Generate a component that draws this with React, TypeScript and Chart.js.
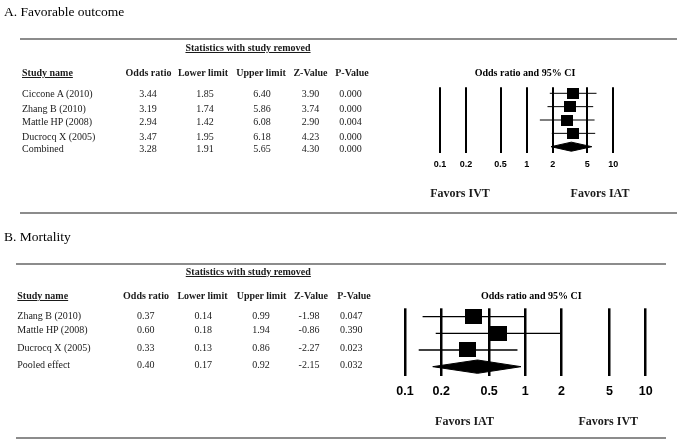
import React, { useEffect, useRef } from "react";
import { Chart, registerables } from "chart.js";

Chart.register(...registerables);

// ---------- Data ----------
const studiesA = ["Ciccone A (2010)", "Zhang B (2010)", "Mattle HP (2008)", "Ducrocq X (2005)", "Combined"];
const oddsA = [3.44, 3.19, 2.94, 3.47, 3.28];
const lowerA = [1.85, 1.74, 1.42, 1.95, 1.91];
const upperA = [6.4, 5.86, 6.08, 6.18, 5.65];
const zA = [3.9, 3.74, 2.9, 4.23, 4.3];
const pA = [0.0, 0.0, 0.004, 0.0, 0.0];

const studiesB = ["Zhang B (2010)", "Mattle HP (2008)", "Ducrocq X (2005)", "Pooled effect"];
const oddsB = [0.37, 0.6, 0.33, 0.4];
const lowerB = [0.14, 0.18, 0.13, 0.17];
const upperB = [0.99, 1.94, 0.86, 0.92];
const zB = [-1.98, -0.86, -2.27, -2.15];
const pB = [0.047, 0.39, 0.023, 0.032];

const tickValues = [0.1, 0.2, 0.5, 1, 2, 5, 10];
const headers = ["Odds ratio", "Lower limit", "Upper limit", "Z-Value", "P-Value"];

// ---------- Styling ----------
const SERIF = "'Liberation Serif', 'Times New Roman', serif";
const SANS = "'Liberation Sans', Arial, sans-serif";
const W = 681;
const H = 442;

function makeBox(w: number, h: number) {
  const c = document.createElement("canvas");
  c.width = w;
  c.height = h;
  const ctx = c.getContext("2d")!;
  ctx.fillStyle = "#000";
  ctx.fillRect(0, 0, w, h);
  return c;
}

type PanelCfg = {
  odds: number[];
  lower: number[];
  upper: number[];
  boxW: number;
  boxH: number;
  diamondHalf: number;
  yMin: number;
  yMax: number;
  padding: { left: number; right: number; top: number; bottom: number };
  tickSize: number;
  tickPad: number;
  gridW: number;
  whiskerW: number;
};

function buildChart(canvas: HTMLCanvasElement, cfg: PanelCfg) {
  const n = cfg.odds.length;
  const box = makeBox(cfg.boxW, cfg.boxH);
  const studyIdx = Array.from({ length: n - 1 }, (_, i) => i);
  const r = n; // summary row
  const datasets: any[] = [];
  datasets.push({
    label: "studies",
    data: studyIdx.map((i) => ({ x: cfg.odds[i], y: i + 1 })),
    pointStyle: box,
    pointRadius: cfg.boxW / 2,
    showLine: false,
  });
  datasets.push({
    label: "summary",
    data: [
      { x: cfg.lower[n - 1], y: r },
      { x: cfg.odds[n - 1], y: r - cfg.diamondHalf },
      { x: cfg.upper[n - 1], y: r },
      { x: cfg.odds[n - 1], y: r + cfg.diamondHalf },
      { x: cfg.lower[n - 1], y: r },
    ],
    showLine: true,
    fill: "shape",
    backgroundColor: "#000",
    borderColor: "#000",
    borderWidth: 1,
    pointRadius: 0,
    tension: 0,
  });
  studyIdx.forEach((i) => {
    datasets.push({
      label: "ci" + i,
      data: [
        { x: cfg.lower[i], y: i + 1 },
        { x: cfg.upper[i], y: i + 1 },
      ],
      showLine: true,
      borderColor: "#000",
      borderWidth: cfg.whiskerW,
      pointRadius: 0,
    });
  });

  return new Chart(canvas, {
    type: "scatter",
    data: { datasets },
    options: {
      responsive: false,
      animation: false,
      devicePixelRatio: 1,
      events: [],
      layout: { padding: cfg.padding },
      plugins: { legend: { display: false }, tooltip: { enabled: false }, title: { display: false } },
      scales: {
        x: {
          type: "logarithmic",
          min: 0.1,
          max: 10,
          position: "bottom",
          afterBuildTicks: (s: any) => {
            s.ticks = tickValues.map((v) => ({ value: v }));
          },
          ticks: {
            callback: (v: any) => String(v),
            font: { family: SANS, size: cfg.tickSize, weight: "bold" },
            color: "#000",
            padding: cfg.tickPad,
            autoSkip: false,
            maxRotation: 0,
            minRotation: 0,
          },
          grid: { color: "#000", lineWidth: cfg.gridW, drawTicks: false },
          border: { display: false },
        },
        y: {
          type: "linear",
          display: false,
          reverse: true,
          min: cfg.yMin,
          max: cfg.yMax,
        },
      },
    } as any,
  });
}

// ---------- HTML helpers ----------
function Txt(props: {
  x: number;
  y: number;
  text: string;
  size?: number;
  bold?: boolean;
  align?: "left" | "center" | "right";
  underline?: boolean;
  color?: string;
  font?: string;
}) {
  const { x, y, text, size = 10, bold = false, align = "center", underline = false, color = "#1a1a1a", font = SERIF } = props;
  const tx = align === "center" ? "-50%" : align === "right" ? "-100%" : "0";
  return (
    <div
      style={{
        position: "absolute",
        left: x,
        top: y,
        transform: `translate(${tx}, -50%)`,
        fontFamily: font,
        fontSize: size,
        fontWeight: bold ? 700 : 400,
        lineHeight: 1,
        whiteSpace: "nowrap",
        textDecoration: underline ? "underline" : "none",
        color,
      }}
    >
      {text}
    </div>
  );
}

function Rule(props: { x: number; y: number; w: number }) {
  return (
    <div
      style={{
        position: "absolute",
        left: props.x,
        top: props.y,
        width: props.w,
        height: 2,
        background: "#8c8c8c",
      }}
    />
  );
}

function Table(props: {
  studies: string[];
  cols: (string | number)[][];
  nameX: number;
  headerY: number;
  statY: number;
  statX: number;
  headerX: number[];
  valueX: number[];
  rowY: number[];
}) {
  const { studies, cols, nameX, headerY, statY, statX, headerX, valueX, rowY } = props;
  const out: any[] = [];
  out.push(<Txt key="stat" x={statX} y={statY} text="Statistics with study removed" bold underline />);
  out.push(<Txt key="sn" x={nameX} y={headerY} text="Study name" bold underline align="left" />);
  headers.forEach((h, i) => out.push(<Txt key={"h" + i} x={headerX[i]} y={headerY} text={h} bold />));
  studies.forEach((s, r) => {
    out.push(<Txt key={"s" + r} x={nameX} y={rowY[r]} text={s} align="left" />);
    cols.forEach((c, ci) => out.push(<Txt key={"v" + r + "_" + ci} x={valueX[ci]} y={rowY[r]} text={String(c[r])} />));
  });
  return <>{out}</>;
}

export default function App() {
  const refA = useRef<HTMLCanvasElement>(null);
  const refB = useRef<HTMLCanvasElement>(null);

  useEffect(() => {
    const chartA = buildChart(refA.current!, {
      odds: oddsA,
      lower: lowerA,
      upper: upperA,
      boxW: 12,
      boxH: 11,
      diamondHalf: 0.34,
      yMin: 0.55,
      yMax: 5.45,
      padding: { left: 440, right: W - 613.3, top: 87.3, bottom: 264.7 },
      tickSize: 9,
      tickPad: 6.9,
      gridW: 2,
      whiskerW: 1,
    });
    const chartB = buildChart(refB.current!, {
      odds: oddsB,
      lower: lowerB,
      upper: upperB,
      boxW: 17,
      boxH: 15,
      diamondHalf: 0.4,
      yMin: 0.5,
      yMax: 4.56,
      padding: { left: 405, right: W - 645.7, top: 308.3, bottom: 34.6 },
      tickSize: 12.5,
      tickPad: 8.2,
      gridW: 2.5,
      whiskerW: 1.3,
    });
    return () => {
      chartA.destroy();
      chartB.destroy();
    };
  }, []);

  const fmt2 = (a: number[]) => a.map((v) => v.toFixed(2));
  const fmt3 = (a: number[]) => a.map((v) => v.toFixed(3));

  return (
    <div style={{ position: "absolute", left: 0, top: 0, width: W, height: H, background: "#fff", overflow: "hidden" }}>
      <canvas ref={refA} width={W} height={H} style={{ position: "absolute", left: 0, top: 0, width: W, height: H }} />
      <canvas ref={refB} width={W} height={H} style={{ position: "absolute", left: 0, top: 0, width: W, height: H }} />

      {/* Panel A */}
      <Txt x={4} y={11.5} text="A. Favorable outcome" size={13.5} align="left" color="#000" />
      <Rule x={20} y={38.3} w={657} />
      <Table
        studies={studiesA}
        cols={[fmt2(oddsA), fmt2(lowerA), fmt2(upperA), fmt2(zA), fmt3(pA)]}
        nameX={22}
        headerY={73.3}
        statY={47.5}
        statX={248}
        headerX={[148.5, 203, 261, 310.5, 352]}
        valueX={[148, 205, 262, 310.5, 350.5]}
        rowY={[94.3, 109, 122.3, 136.5, 149]}
      />
      <Txt x={525} y={73.3} text="Odds ratio and 95% CI" bold color="#000" />
      <Txt x={460} y={193} text="Favors IVT" size={12} bold />
      <Txt x={600} y={193} text="Favors IAT" size={12} bold />
      <Rule x={20} y={211.7} w={657} />

      {/* Panel B */}
      <Txt x={4} y={236.5} text="B. Mortality" size={13.5} align="left" color="#000" />
      <Rule x={16} y={263.3} w={650} />
      <Table
        studies={studiesB}
        cols={[fmt2(oddsB), fmt2(lowerB), fmt2(upperB), fmt2(zB), fmt3(pB)]}
        nameX={17.3}
        headerY={296}
        statY={271.7}
        statX={248.3}
        headerX={[146, 202.5, 261.5, 311, 354]}
        valueX={[145.7, 203.3, 261, 309, 351.3]}
        rowY={[315.7, 330.3, 347.7, 364.5]}
      />
      <Txt x={531.3} y={296} text="Odds ratio and 95% CI" bold color="#000" />
      <Txt x={464.5} y={421} text="Favors IAT" size={12} bold />
      <Txt x={608.3} y={421} text="Favors IVT" size={12} bold />
      <Rule x={16} y={437.3} w={650} />
    </div>
  );
}
